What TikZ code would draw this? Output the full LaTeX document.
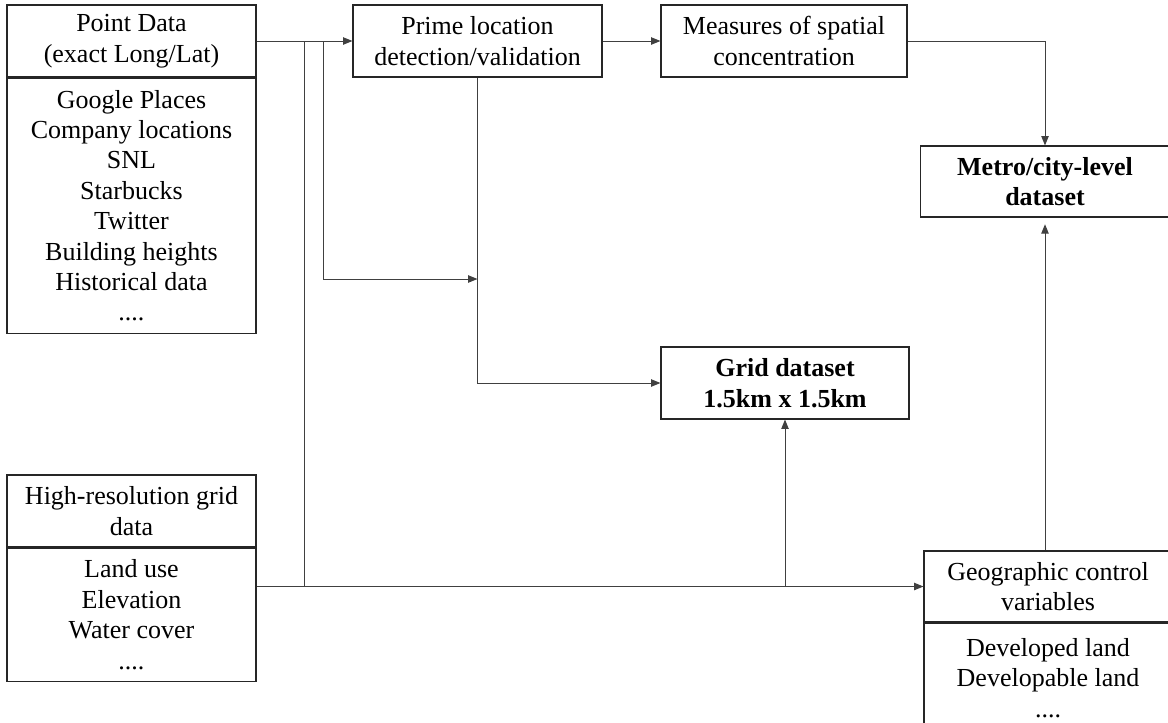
\documentclass[tikz,border=0pt]{standalone}
\usepackage{fontspec}
\setmainfont{Liberation Serif}
\usetikzlibrary{arrows.meta, positioning}

\begin{document}
\begin{tikzpicture}[x=0.75pt, y=-0.75pt,
    box/.style={draw=black!85, line width=0.8pt, align=center, inner sep=0pt,
        minimum width=186.75pt, font=\fontsize{19.5}{22.8}\selectfont},
    outbox/.style={box, font=\fontsize{19.5}{22.8}\selectfont\bfseries},
    link/.style={draw=black!75, line width=0.75pt},
    arr/.style={link, -{Triangle[length=7pt,width=5.5pt]}}]
    \useasboundingbox (0,0) rectangle (1168,722);

    % data sources
    \node[box, minimum height=54pt] (pointhead) at (131.5,41) {Point Data\\(exact Long/Lat)};
    \node[box, minimum height=191.25pt, below=0pt of pointhead] (pointbody) {Google Places\\Company locations\\SNL\\Starbucks\\Twitter\\Building heights\\Historical data\\....};
    \node[box, minimum height=54pt] (gridhead) at (131.5,511) {High-resolution grid\\data};
    \node[box, minimum height=99.75pt, below=0pt of gridhead] (gridbody) {Land use\\Elevation\\Water cover\\....};

    % processing steps
    \node[box, minimum height=54pt] (prime) at (477.5,41) {Prime location\\detection/validation};
    \node[box, minimum width=184.5pt, minimum height=54pt] (measures) at (784,41) {Measures of spatial\\concentration};
    \node[box, minimum width=186pt, minimum height=53.25pt] (geohead) at (1048,586.5) {Geographic control\\variables};
    \node[box, minimum width=186pt, minimum height=82.5pt, below=0pt of geohead] (geobody) {Developed land\\Developable land\\....};

    % outputs
    \node[outbox, minimum width=186pt, minimum height=54pt] (grid) at (785,383) {Grid dataset\\1.5km x 1.5km};
    \node[outbox, minimum height=53.25pt] (metro) at (1045,181.5) {Metro/city-level\\dataset};

    \coordinate (splitA) at (304,41);
    \coordinate (splitB) at (323,41);
    \coordinate (bendB) at (323,279);
    \coordinate (splitC) at (splitA |- geohead.west);

    \draw[arr] (pointhead) -- (prime);
    \draw[arr] (prime) -- (measures);
    \draw[arr] (measures) -| (metro);
    \draw[link] (splitA) -- (splitC);
    \draw[arr] (splitB) -- (bendB) -- (prime.south |- bendB);
    \draw[arr] (prime) |- (grid);
    \draw[arr] (gridbody.east |- splitC) -- (geohead);
    \draw[arr] (grid.south |- splitC) -- (grid);
    \draw[arr, shorten >=5pt] (metro.south |- geohead.north) -- (metro);
\end{tikzpicture}
\end{document}
